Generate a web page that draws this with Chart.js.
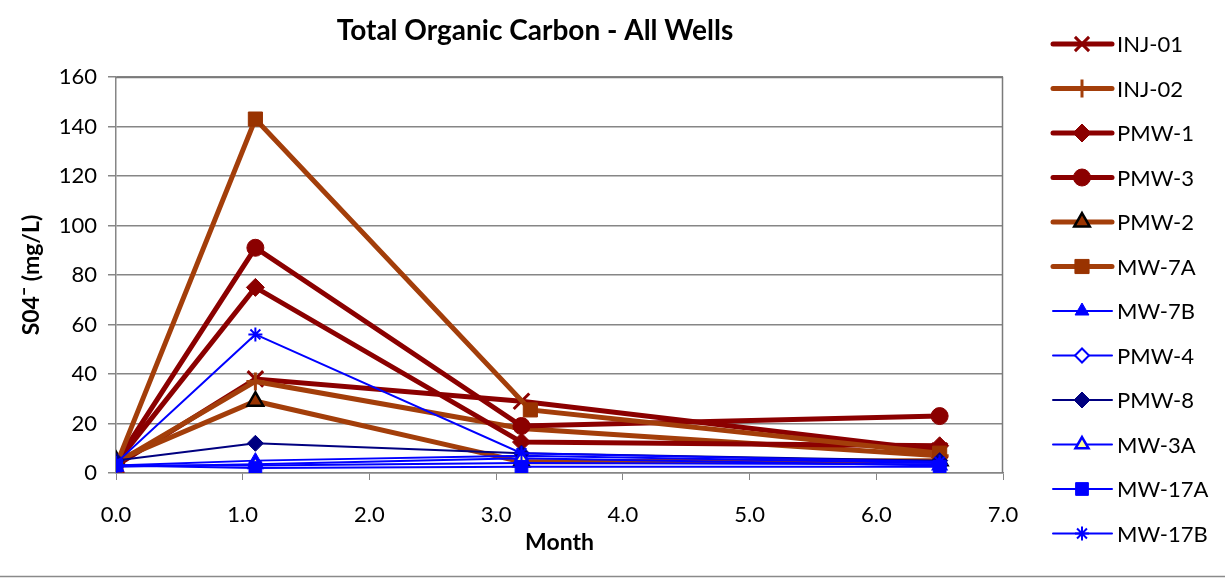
<!DOCTYPE html>
<html><head><meta charset="utf-8">
<script src="https://cdn.jsdelivr.net/npm/chart.js@4/dist/chart.umd.min.js"></script>
<style>html,body{margin:0;padding:0;background:#fff;overflow:hidden}canvas{display:block}</style>
</head><body>
<canvas id="c" width="1225" height="582"></canvas>
<script>
// ---- data ----
const chartTitle = 'Total Organic Carbon - All Wells';
const xAxisTitle = 'Month';
const yAxisTitle = 'S04ˉ (mg/L)';
const wellNames = ['INJ-01','INJ-02','PMW-1','PMW-3','PMW-2','MW-7A','MW-7B','PMW-4','PMW-8','MW-3A','MW-17A','MW-17B'];
const sampleMonths = [0, 1.1, 3.2, 6.5];
const sampleMonthsMW7A = [0, 1.1, 3.27, 6.5];
const inj01 = [3, 38, 29, 9];
const inj02 = [4, 37, 18, 7];
const pmw1  = [4, 75, 12.5, 11];
const pmw3  = [4, 91, 19, 23];
const pmw2  = [5, 29, 4.5, 5];
const mw7a  = [3, 143, 25.5, 8];
const mw7b  = [3, 5, 7, 4];
const pmw4  = [3, 3, 4, 3.5];
const pmw8  = [5, 12, 8, 5];
const mw3a  = [2.5, 3.5, 6, 3];
const mw17a = [3, 2, 2.5, 2.5];
const mw17b = [4, 56, 8, 4.5];
const yTickMin = 0, yTickMax = 160, yTickStep = 20;
const xTickMin = 0, xTickMax = 7, xTickStep = 1;

const seriesValues = [inj01, inj02, pmw1, pmw3, pmw2, mw7a, mw7b, pmw4, pmw8, mw3a, mw17a, mw17b];
const seriesMonths = [sampleMonths, sampleMonths, sampleMonths, sampleMonths, sampleMonths, sampleMonthsMW7A,
  sampleMonths, sampleMonths, sampleMonths, sampleMonths, sampleMonths, sampleMonths];

// ---- styles ----
const DR = '#8B0000', OR = '#A33E0A', SQ = '#993300', BL = '#0000FF', NV = '#000080';
const styles = [
  {line: DR, lw: 5, ps: 'crossRot', r: 11, fill: DR, border: DR, bw: 3},
  {line: OR, lw: 5, ps: 'cross', r: 9, fill: OR, border: OR, bw: 3},
  {line: DR, lw: 5, ps: 'rectRot', r: 9, fill: DR, border: DR, bw: 1},
  {line: DR, lw: 5, ps: 'circle', r: 8.5, fill: DR, border: DR, bw: 1},
  {line: OR, lw: 5, ps: 'triangle', r: 9, fill: SQ, border: '#000000', bw: 2.5},
  {line: OR, lw: 5, ps: 'rect', r: 10, fill: SQ, border: SQ, bw: 1},
  {line: BL, lw: 2, ps: 'triangle', r: 8, fill: BL, border: BL, bw: 1},
  {line: BL, lw: 2, ps: 'rectRot', r: 7, fill: '#FFFFFF', border: BL, bw: 2},
  {line: NV, lw: 2, ps: 'rectRot', r: 8, fill: NV, border: NV, bw: 1},
  {line: BL, lw: 2, ps: 'triangle', r: 7.5, fill: '#FFFF99', border: BL, bw: 2.5},
  {line: BL, lw: 2, ps: 'rect', r: 9, fill: BL, border: BL, bw: 1},
  {line: BL, lw: 2, ps: 'star', r: 7, fill: BL, border: BL, bw: 2}
];

const FONT = 'Lato, "Open Sans", sans-serif';

const datasets = wellNames.map((name, i) => ({
  label: name,
  data: seriesValues[i].map((v, j) => ({x: seriesMonths[i][j], y: v})),
  borderColor: styles[i].line,
  borderWidth: styles[i].lw,
  pointStyle: styles[i].ps,
  pointRadius: styles[i].r,
  pointHoverRadius: styles[i].r,
  pointBackgroundColor: styles[i].fill,
  pointBorderColor: styles[i].border,
  pointBorderWidth: styles[i].bw,
  tension: 0,
  fill: false,
  order: wellNames.length - i
}));

const decorPlugin = {
  id: 'decor',
  afterDraw(chart) {
    const ctx = chart.ctx, a = chart.chartArea;
    ctx.save();
    // plot frame top/right
    ctx.strokeStyle = '#7a7a7a'; ctx.lineWidth = 1.5;
    ctx.beginPath();
    ctx.moveTo(a.left, a.top + 0.5); ctx.lineTo(a.right - 0.5, a.top + 0.5); ctx.lineTo(a.right - 0.5, a.bottom);
    ctx.stroke();
    // bottom border line of picture
    ctx.strokeStyle = '#8a8a8a'; ctx.lineWidth = 1.5;
    ctx.beginPath(); ctx.moveTo(0, 576.5); ctx.lineTo(1225, 576.5); ctx.stroke();
    // title
    ctx.fillStyle = '#000'; ctx.font = 'bold 28px ' + FONT;
    ctx.textAlign = 'center'; ctx.textBaseline = 'middle';
    ctx.fillText(chartTitle, 535, 31);
    // legend
    const lx0 = 1053, lx1 = 1112, mx = 1082, tx = 1117, y0 = 44, dy = 44.5;
    ctx.font = '22px ' + FONT; ctx.textAlign = 'left';
    chart.data.datasets.forEach((ds, i) => {
      const y = y0 + i * dy;
      ctx.strokeStyle = ds.borderColor; ctx.lineWidth = ds.borderWidth; ctx.lineCap = 'round';
      ctx.beginPath(); ctx.moveTo(lx0, y); ctx.lineTo(lx1, y); ctx.stroke();
      ctx.lineCap = 'butt';
      ctx.fillStyle = ds.pointBackgroundColor; ctx.strokeStyle = ds.pointBorderColor; ctx.lineWidth = ds.pointBorderWidth;
      Chart.helpers.drawPoint(ctx, {pointStyle: ds.pointStyle, radius: Math.min(ds.pointRadius, 10), rotation: 0, borderWidth: ds.pointBorderWidth}, mx, y);
      ctx.fillStyle = '#000';
      ctx.fillText(ds.label, tx, y + 1);
    });
    ctx.restore();
  }
};

new Chart(document.getElementById('c'), {
  type: 'line',
  data: {datasets},
  options: {
    responsive: false,
    devicePixelRatio: 1,
    animation: false,
    events: [],
    layout: {padding: {top: 77, right: 222, bottom: 23, left: 0}},
    plugins: {legend: {display: false}, title: {display: false}, tooltip: {enabled: false}},
    scales: {
      x: {
        type: 'linear', min: xTickMin, max: xTickMax,
        ticks: {stepSize: xTickStep, color: '#000', font: {family: FONT, size: 22}, padding: 22,
          callback: v => Number(v).toFixed(1), maxRotation: 0},
        grid: {display: true, drawOnChartArea: false, drawTicks: true, tickLength: 7, color: '#868686'},
        border: {display: true, color: '#868686', width: 1.5},
        title: {display: true, text: xAxisTitle, color: '#000', font: {family: FONT, size: 23, weight: 'bold'}, padding: {top: 0, bottom: 3}},
        afterFit(s) { s.height = 86; s.paddingLeft = 0; s.paddingRight = 0; }
      },
      y: {
        type: 'linear', min: yTickMin, max: yTickMax,
        ticks: {stepSize: yTickStep, color: '#000', font: {family: FONT, size: 22}, padding: 11},
        grid: {color: '#868686', lineWidth: 1.5, tickLength: 8, drawTicks: true},
        border: {display: true, color: '#868686', width: 1.5},
        title: {display: true, text: yAxisTitle, color: '#000', font: {family: FONT, size: 23, weight: 'bold'}, padding: {top: 18, bottom: 0}},
        afterFit(s) { s.width = 116; s.paddingTop = 0; s.paddingBottom = 0; }
      }
    }
  },
  plugins: [decorPlugin]
});
</script>
</body></html>
